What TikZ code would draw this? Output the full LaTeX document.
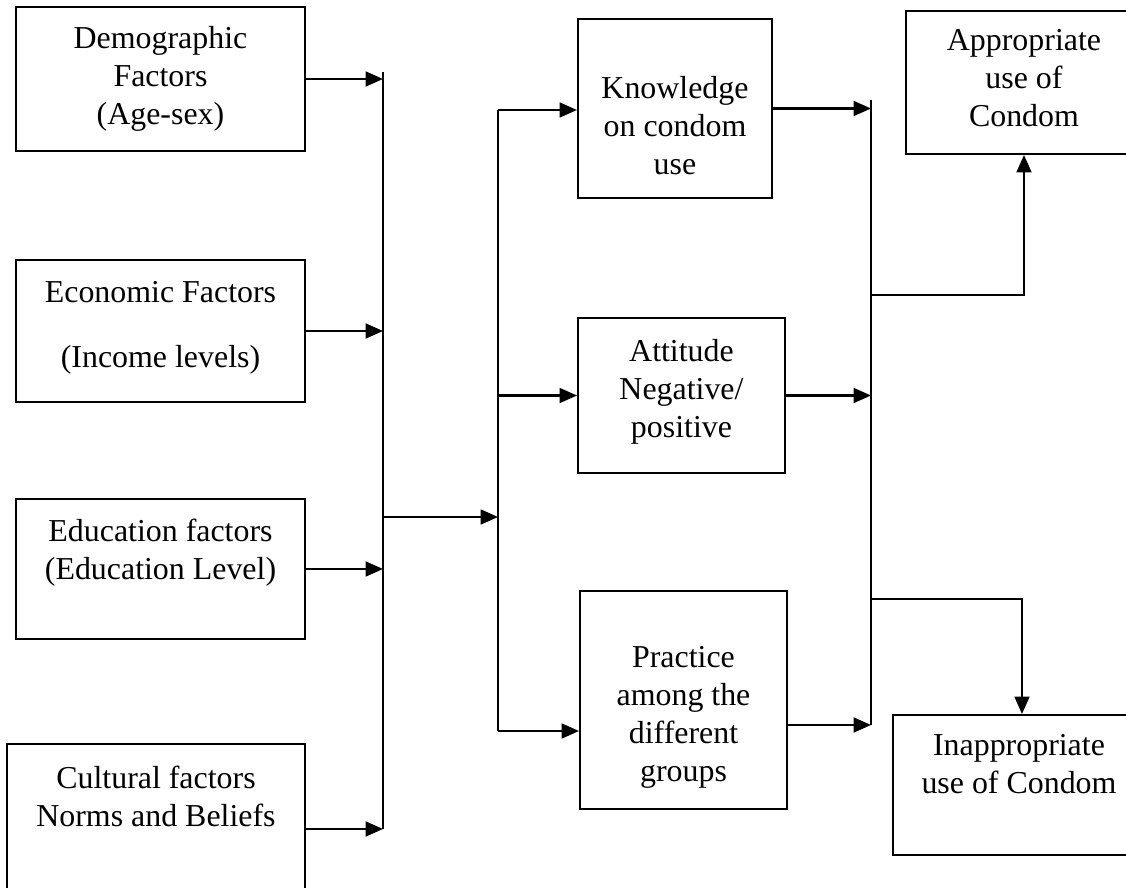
\documentclass[tikz,border=0pt]{standalone}
\usepackage{fontspec}
\setmainfont{Liberation Serif}
\usetikzlibrary{arrows.meta}

\begin{document}
\begin{tikzpicture}[x=0.3636pt,y=-0.3636pt,line width=0.75pt,
  box/.style 2 args={draw,minimum width=#1*0.3636pt,minimum height=#2*0.3636pt},
  txt/.style={anchor=north,align=center,inner sep=0pt,font=\fontsize{11.6}{13.8}\selectfont},
  arr/.style={-{Triangle[length=6.3pt,width=5.4pt]}}]
\useasboundingbox (0,0) rectangle (1126,888);
% factors
\node[box={289}{144}] (demo) at (160.5,79) {};
\node[box={289}{142}] (econ) at (160.5,331) {};
\node[box={289}{140}] (edu) at (160.5,569) {};
\node[box={298}{170}] (cult) at (156,829) {};
\node[txt] (demo-t) at (160.5,25) {Demographic\\Factors\\(Age-sex)};
\node[txt] (econ-t) at (160.5,280) {Economic Factors\\[9.8pt](Income levels)};
\node[txt] (edu-t) at (160.5,518) {Education factors\\(Education Level)};
\node[txt] (cult-t) at (156,765) {Cultural factors\\Norms and Beliefs};
% knowledge, attitude, practice
\node[box={194}{179}] (know) at (675,108.5) {};
\node[box={207}{155}] (att) at (681.5,395.5) {};
\node[box={207}{218}] (prac) at (683.5,700) {};
\node[txt] (know-t) at (675,75) {Knowledge\\on condom\\use};
\node[txt] (att-t) at (681.5,338) {Attitude\\Negative/\\positive};
\node[txt] (prac-t) at (683.5,645) {Practice\\among the\\different\\groups};
% outcomes
\node[box={236}{143}] (appr) at (1024,82.5) {};
\node[box={258}{140}] (inapp) at (1022,785) {};
\node[txt] (appr-t) at (1024,28) {Appropriate\\use of\\Condom};
\node[txt] (inapp-t) at (1019,733) {Inappropriate\\use of Condom};
\coordinate (b1top) at (383,72);
\coordinate (b1bot) at (383,829);
\coordinate (b1mid) at (383,517);
\coordinate (b2top) at (498,110);
\coordinate (b2mid) at (498,517);
\coordinate (b2bot) at (498,731);
\coordinate (b3top) at (871,100);
\coordinate (b3up) at (871,295);
\coordinate (b3low) at (871,599);
\coordinate (b3bot) at (871,725);
\draw (b1top) -- (b1bot);
\draw[arr] (demo.east) -- (demo.east -| b1top);
\draw[arr] (econ.east) -- (econ.east -| b1top);
\draw[arr] (edu.east) -- (edu.east -| b1top);
\draw[arr] (cult.east) -- (cult.east -| b1top);
\draw[arr] (b1mid) -- (b2mid);
\draw (b2top) -- (b2bot);
\draw[arr] (b2top) -- (b2top -| know.west);
\draw[arr] (b2top |- att.west) -- (att.west);
\draw[arr] (b2bot) -- (b2bot -| prac.west);
\draw (b3top) -- (b3bot);
\draw[arr] (know.east) -- (know.east -| b3top);
\draw[arr] (att.east) -- (att.east -| b3top);
\draw[arr] (prac.east |- b3bot) -- (b3bot);
\draw[arr] (b3up) -| (appr.south);
\draw[arr] (b3low) -| (inapp.north);
\end{tikzpicture}
\end{document}
